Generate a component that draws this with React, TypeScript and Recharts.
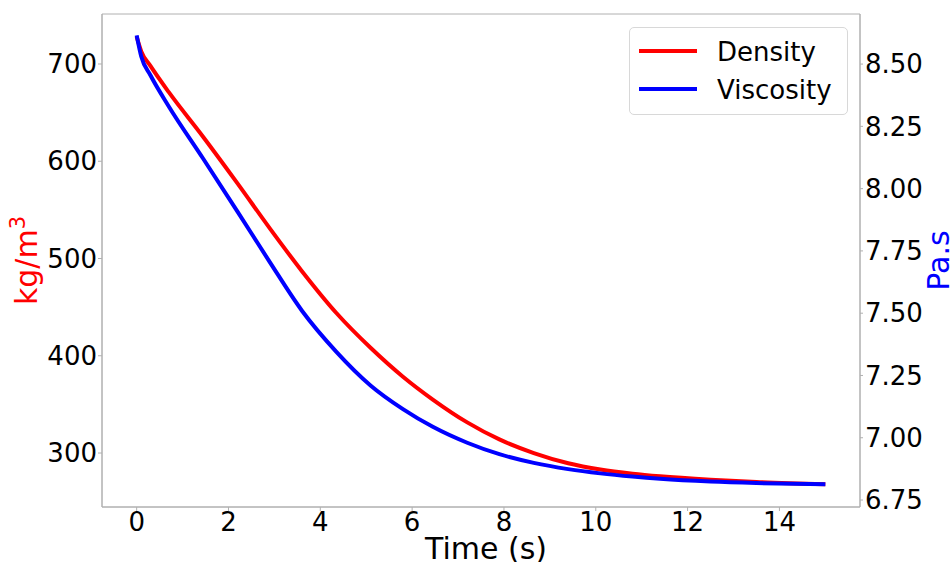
import { LineChart, Line, XAxis, YAxis, Legend, ReferenceArea, Label } from 'recharts';

const time = [0, 0.1, 0.3, 0.7, 1.45, 2.2, 2.9, 3.6, 4.35, 5.1, 5.8, 6.45, 7.2, 7.9, 8.65, 9.4, 10.1, 10.8, 11.4, 12.5, 13.5, 15];
const density = [728, 713, 698, 671, 625, 577, 531, 487, 444, 408, 378.5, 355, 331.5, 314, 300, 289.5, 283, 278.7, 276, 272.5, 270.2, 268];
const viscosity = [8.615, 8.53, 8.455, 8.33, 8.12, 7.907, 7.705, 7.51, 7.345, 7.209, 7.115, 7.044, 6.98, 6.934, 6.899, 6.874, 6.857, 6.844, 6.835, 6.824, 6.818, 6.813];

const xTicks = [0, 2, 4, 6, 8, 10, 12, 14];
const leftTicks = [300, 400, 500, 600, 700];
const rightTicks = [6.75, 7.0, 7.25, 7.5, 7.75, 8.0, 8.25, 8.5];

const rows = time.map((t, i) => ({ t, density: density[i], viscosity: viscosity[i] }));

const FONT = 'DejaVu Sans';
const FRAME = '#b0b0b0';
const tickStyle = { fill: '#000', fontSize: 26, fontFamily: FONT };

function LegendBox() {
  const items = [
    { name: 'Density', color: '#ff0000', top: 9 },
    { name: 'Viscosity', color: '#0000ff', top: 47 },
  ];
  return (
    <div
      style={{
        position: 'relative',
        width: 219,
        height: 88,
        boxSizing: 'border-box',
        border: '1px solid #d8d8d8',
        borderRadius: 5,
        background: '#fff',
        fontFamily: FONT,
      }}
    >
      {items.map((it) => (
        <div key={it.name}>
          <div style={{ position: 'absolute', left: 9, top: it.top + 12, width: 58, height: 4, background: it.color }} />
          <span style={{ position: 'absolute', left: 87, top: it.top, fontSize: 26, lineHeight: '30px', color: '#000', whiteSpace: 'nowrap' }}>
            {it.name}
          </span>
        </div>
      ))}
    </div>
  );
}

export default function App() {
  return (
    <div style={{ position: 'absolute', left: 0, top: 0, width: 950, height: 562, background: '#fff' }}>
      <LineChart width={950} height={562} data={rows} margin={{ top: 14, right: 0, bottom: 0, left: 0 }}>
        <XAxis
          dataKey="t"
          type="number"
          domain={[-0.755, 15.755]}
          ticks={xTicks}
          allowDataOverflow
          height={55}
          tick={tickStyle}
          tickSize={4}
          tickMargin={2}
          axisLine={{ stroke: FRAME }}
          tickLine={{ stroke: FRAME }}
        >
          <Label
            content={({ viewBox }: any) => (
              <text x={viewBox.x + viewBox.width / 2 + 5} y={559} textAnchor="middle" fontSize={30} fontFamily={FONT} fill="#000">
                Time (s)
              </text>
            )}
          />
        </XAxis>
        <YAxis
          yAxisId="left"
          type="number"
          domain={[244.5, 751.4]}
          ticks={leftTicks}
          allowDataOverflow
          width={102}
          tick={tickStyle}
          tickSize={4}
          tickMargin={1}
          axisLine={{ stroke: FRAME }}
          tickLine={{ stroke: FRAME }}
        >
          <Label
            content={({ viewBox }: any) => {
              const cy = viewBox.y + viewBox.height / 2;
              return (
                <text x={37} y={cy} transform={`rotate(-90, 37, ${cy})`} textAnchor="middle" fontSize={30} fontFamily={FONT} fill="#ff0000">
                  kg/m<tspan fontSize={21} dy={-12}>3</tspan>
                </text>
              );
            }}
          />
        </YAxis>
        <YAxis
          yAxisId="right"
          orientation="right"
          type="number"
          domain={[6.722, 8.701]}
          ticks={rightTicks}
          allowDataOverflow
          width={90}
          tick={tickStyle}
          tickFormatter={(v: number) => v.toFixed(2)}
          tickSize={3}
          tickMargin={2}
          axisLine={{ stroke: FRAME }}
          tickLine={{ stroke: FRAME }}
        >
          <Label
            content={({ viewBox }: any) => {
              const cy = viewBox.y + viewBox.height / 2;
              return (
                <text x={949} y={cy} transform={`rotate(-90, 949, ${cy})`} textAnchor="middle" fontSize={30} fontFamily={FONT} fill="#0000ff">
                  Pa.s
                </text>
              );
            }}
          />
        </YAxis>
        <ReferenceArea yAxisId="left" x1={-0.755} x2={15.755} y1={244.5} y2={751.4} fill="none" stroke={FRAME} strokeWidth={1} />
        <Legend
          layout="vertical"
          align="center"
          verticalAlign="middle"
          wrapperStyle={{ left: 629, top: 27, width: 219, height: 88 }}
          content={() => <LegendBox />}
        />
        <Line yAxisId="left" type="monotone" dataKey="density" name="Density" stroke="#ff0000" strokeWidth={4} dot={false} isAnimationActive={false} />
        <Line yAxisId="right" type="monotone" dataKey="viscosity" name="Viscosity" stroke="#0000ff" strokeWidth={4} dot={false} isAnimationActive={false} />
      </LineChart>
    </div>
  );
}
